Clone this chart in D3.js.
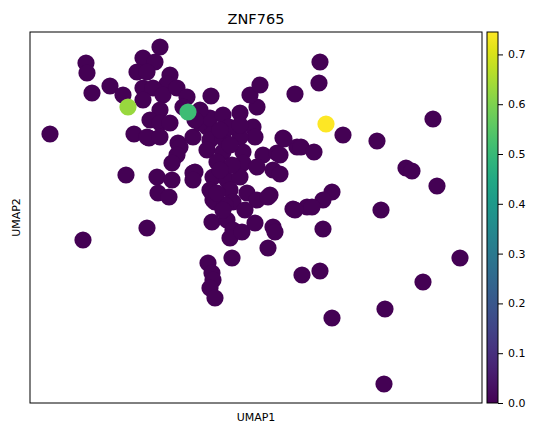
<!DOCTYPE html>
<html>
<head>
<meta charset="utf-8">
<script src="https://cdn.jsdelivr.net/npm/d3@7"></script>
<style>
  body { margin: 0; background: white; }
  text { font-family: "DejaVu Sans", sans-serif; fill: black; }
</style>
</head>
<body>
<div id="chart"></div>
<script>
// UMAP coordinates (arbitrary units) and expression of ZNF765 per cell
var umap1 = [2.0, 5.6, 5.7, 6.2, 8.0, 9.3, 5.3, 9.6, 11.7, 10.4, 11.9, 13.0, 11.3, 12.5, 10.7, 11.7, 14.0, 13.7, 11.3, 12.3,
  13.3, 14.7, 15.7, 11.3, 15.3, 13.0, 12.0, 13.0, 14.0, 11.7, 13.0, 14.8, 16.3, 17.7, 17.0, 18.0, 18.1, 19.3, 21.0, 22.7,
  22.0, 23.0, 22.3, 22.5, 25.3, 26.7, 18.0, 19.3, 21.0, 17.7, 19.3, 21.3, 23.3, 24.7, 18.7, 21.3, 22.7, 24.3, 16.5, 18.3,
  19.7, 21.0, 18.0, 20.0, 21.7, 24.0, 18.3, 20.3, 22.7, 26.3, 27.7, 15.0, 14.7, 14.2, 12.7, 14.2, 12.8, 13.9, 16.3, 18.2,
  18.5, 18.2, 19.7, 20.3, 20.0, 21.2, 22.5, 24.3, 24.5, 23.8, 20.2, 17.8, 18.2, 18.3, 18.0, 18.5, 27.2, 29.0, 30.2, 35.5,
  35.4, 39.3, 43.0, 29.0, 28.9, 26.5, 31.3, 34.7, 40.3, 37.6, 38.2, 40.7, 25.4, 27.1, 28.4, 25.0, 25.0, 30.2, 29.3, 28.2,
  26.5, 35.1, 29.3, 23.8, 19.9, 21.0, 19.0, 20.0, 20.2, 19.0, 17.0, 16.5, 19.5, 21.5, 19.3, 16.3, 18.7,
  9.8, 15.8, 29.6];
var umap2 = [26.9, 34.0, 33.0, 31.0, 31.7, 30.8, 16.3, 22.8, 17.5, 26.9, 26.5, 35.6, 34.5, 34.1, 33.1, 33.1, 32.8, 31.9, 31.5, 31.5,
  30.8, 31.5, 30.6, 30.3, 29.6, 29.3, 28.3, 28.0, 28.0, 26.6, 26.6, 26.0, 26.6, 27.6, 28.0, 28.5, 30.7, 28.8, 29.0, 29.6,
  30.8, 31.8, 27.6, 26.6, 26.5, 25.6, 26.3, 26.5, 26.6, 25.3, 25.1, 25.1, 24.8, 25.0, 24.1, 24.0, 23.6, 23.3, 23.1, 22.6,
  22.3, 22.6, 21.3, 21.3, 21.0, 20.8, 20.3, 20.1, 20.3, 19.4, 19.6, 25.6, 24.8, 24.0, 22.6, 22.3, 21.0, 20.6, 23.0, 21.0,
  20.1, 18.1, 18.3, 17.3, 16.5, 17.1, 18.0, 17.6, 17.1, 15.5, 14.5, 14.0, 13.0, 12.3, 11.5, 10.5, 12.8, 13.2, 8.5, 9.4,
  1.9, 12.1, 14.5, 34.1, 32.0, 30.9, 26.8, 26.2, 28.4, 23.5, 23.2, 21.7, 26.4, 25.6, 25.1, 24.8, 22.9, 21.1, 20.3, 19.6,
  19.3, 19.3, 17.4, 20.6, 27.6, 27.8, 27.3, 25.8, 23.8, 23.3, 29.3, 28.3, 19.8, 19.3, 19.3, 22.3, 21.0,
  29.6, 29.1, 27.9];
var expr = umap1.map(function (d, i) { return 0; });
expr[137] = 0.63;
expr[138] = 0.51;
expr[139] = 0.745;

var cbTicks = [0.0, 0.1, 0.2, 0.3, 0.4, 0.5, 0.6, 0.7];

var W = 539, H = 431;
var mL = 30, mR = 482, mT = 32, mB = 403;
var cbX = 487, cbW = 11;

var svg = d3.select('#chart').append('svg')
  .attr('width', W)
  .attr('height', H);

var x = d3.scaleLinear().domain([0, 45.2]).range([mL, mR]);
var y = d3.scaleLinear().domain([0, 37.1]).range([mB, mT]);
var maxV = d3.max(expr);
var color = d3.scaleSequential(d3.interpolateViridis).domain([0, maxV]);

var cells = umap1.map(function (d, i) {
  return { u1: d, u2: umap2[i], v: expr[i] };
});
// highest values drawn last, like scanpy
cells.sort(function (a, b) { return a.v - b.v; });

svg.append('g')
  .selectAll('circle')
  .data(cells)
  .enter()
  .append('circle')
  .attr('cx', function (d) { return x(d.u1); })
  .attr('cy', function (d) { return y(d.u2); })
  .attr('r', 8.6)
  .style('fill', function (d) { return color(d.v); });

// frame
svg.append('rect')
  .attr('x', mL)
  .attr('y', mT)
  .attr('width', mR - mL)
  .attr('height', mB - mT)
  .attr('fill', 'none')
  .attr('stroke', 'black')
  .attr('stroke-width', 1);

svg.append('text')
  .attr('x', (mL + mR) / 2)
  .attr('y', 24)
  .attr('text-anchor', 'middle')
  .style('font-size', '14.5px')
  .text('ZNF765');

svg.append('text')
  .attr('x', (mL + mR) / 2)
  .attr('y', 421)
  .attr('text-anchor', 'middle')
  .style('font-size', '11px')
  .text('UMAP1');

svg.append('text')
  .attr('transform', 'translate(20,' + ((mT + mB) / 2) + ') rotate(-90)')
  .attr('text-anchor', 'middle')
  .style('font-size', '11px')
  .text('UMAP2');

// colorbar
var defs = svg.append('defs');
var grad = defs.append('linearGradient')
  .attr('id', 'cbgrad')
  .attr('x1', 0).attr('y1', 1).attr('x2', 0).attr('y2', 0);
d3.range(0, 1.0001, 0.05).forEach(function (t) {
  grad.append('stop')
    .attr('offset', t)
    .attr('stop-color', d3.interpolateViridis(t));
});

svg.append('rect')
  .attr('x', cbX)
  .attr('y', mT)
  .attr('width', cbW)
  .attr('height', mB - mT)
  .attr('fill', 'url(#cbgrad)')
  .attr('stroke', 'black')
  .attr('stroke-width', 1);

var cbScale = d3.scaleLinear().domain([0, maxV]).range([mB, mT]);
var cbAxis = d3.axisRight(cbScale)
  .tickValues(cbTicks)
  .tickSize(5)
  .tickPadding(5)
  .tickFormat(d3.format('.1f'));

var cbG = svg.append('g')
  .attr('transform', 'translate(' + (cbX + cbW) + ',0)')
  .call(cbAxis);
cbG.select('.domain').remove();
cbG.selectAll('text')
  .style('font-size', '11px')
  .style('font-family', '"DejaVu Sans", sans-serif');
</script>
</body>
</html>
